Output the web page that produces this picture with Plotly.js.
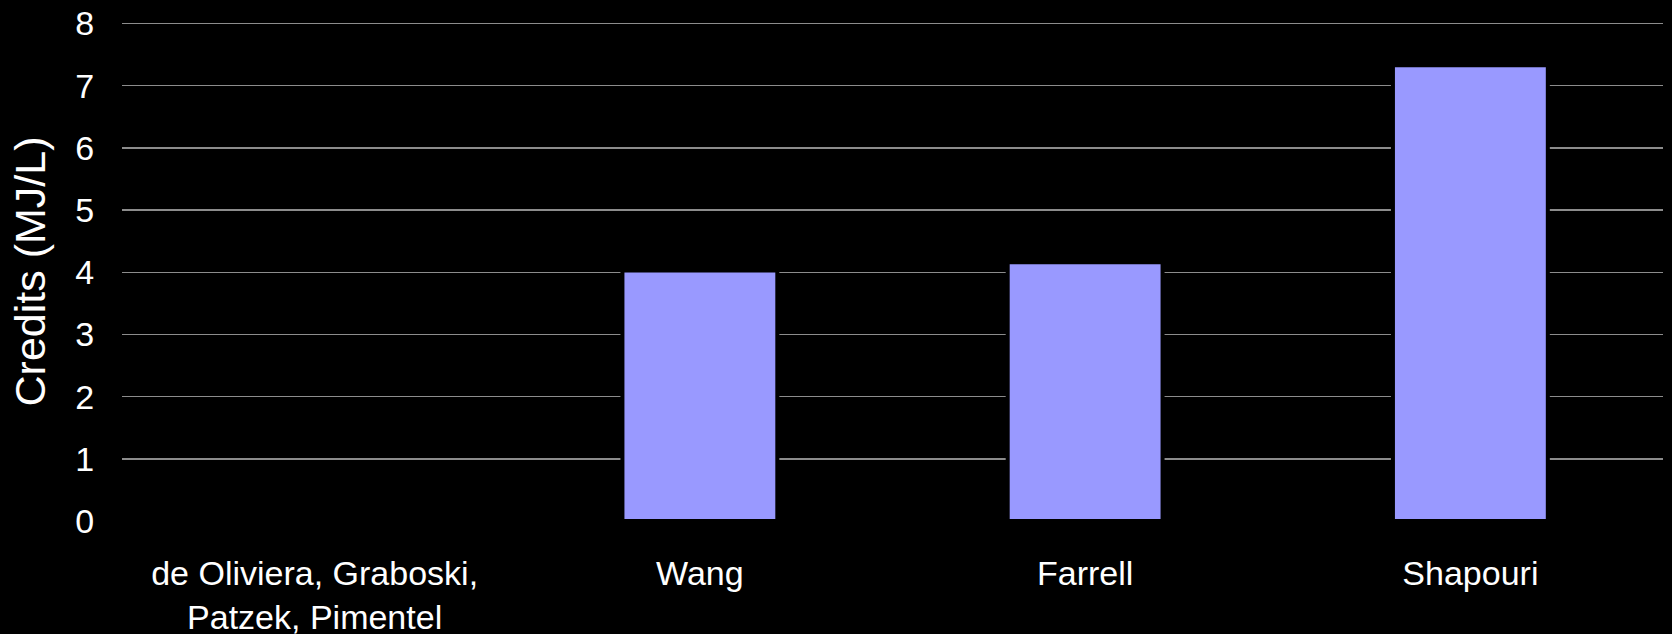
<!DOCTYPE html>
<html>
<head>
<meta charset="utf-8">
<script src="https://cdn.plot.ly/plotly-3.0.1.min.js"></script>
<style>
  html, body { margin: 0; padding: 0; background: #000000; }
  #chart { width: 1672px; height: 634px; }
</style>
</head>
<body>
<div id="chart"></div>
<script>
const categories = ["de Oliviera, Graboski,<br>Patzek, Pimentel", "Wang", "Farrell", "Shapouri"];
const credits = [0, 4.03, 4.16, 7.33];
const yTicks = [0, 1, 2, 3, 4, 5, 6, 7, 8];

const trace = {
  type: 'bar',
  x: categories,
  y: credits,
  width: 0.402,
  marker: { color: '#9999FF', line: { color: '#000000', width: 4 } },
  hoverinfo: 'skip'
};

const layout = {
  width: 1672,
  height: 634,
  paper_bgcolor: '#000000',
  plot_bgcolor: '#000000',
  margin: { l: 122, r: 9, t: 22, b: 113, pad: 0 },
  showlegend: false,
  font: { family: 'Liberation Sans, Arial, sans-serif', color: '#ffffff' },
  xaxis: {
    type: 'category',
    tickfont: { size: 34, color: '#ffffff' },
    ticks: 'outside',
    ticklen: 22,
    tickcolor: 'rgba(0,0,0,0)',
    showgrid: false,
    showline: false,
    zeroline: false,
    fixedrange: true
  },
  yaxis: {
    range: [0, 8.025],
    tickvals: yTicks,
    ticktext: yTicks.map(String),
    tickfont: { size: 34, color: '#ffffff' },
    ticks: 'outside',
    ticklen: 20,
    tickcolor: 'rgba(0,0,0,0)',
    showgrid: true,
    gridcolor: '#8c8c8c',
    gridwidth: 1.5,
    zeroline: false,
    showline: false,
    title: { text: 'Credits (MJ/L)', font: { size: 43, color: '#ffffff' }, standoff: 16 },
    fixedrange: true
  }
};

Plotly.newPlot('chart', [trace], layout, { displayModeBar: false, staticPlot: true });
</script>
</body>
</html>
